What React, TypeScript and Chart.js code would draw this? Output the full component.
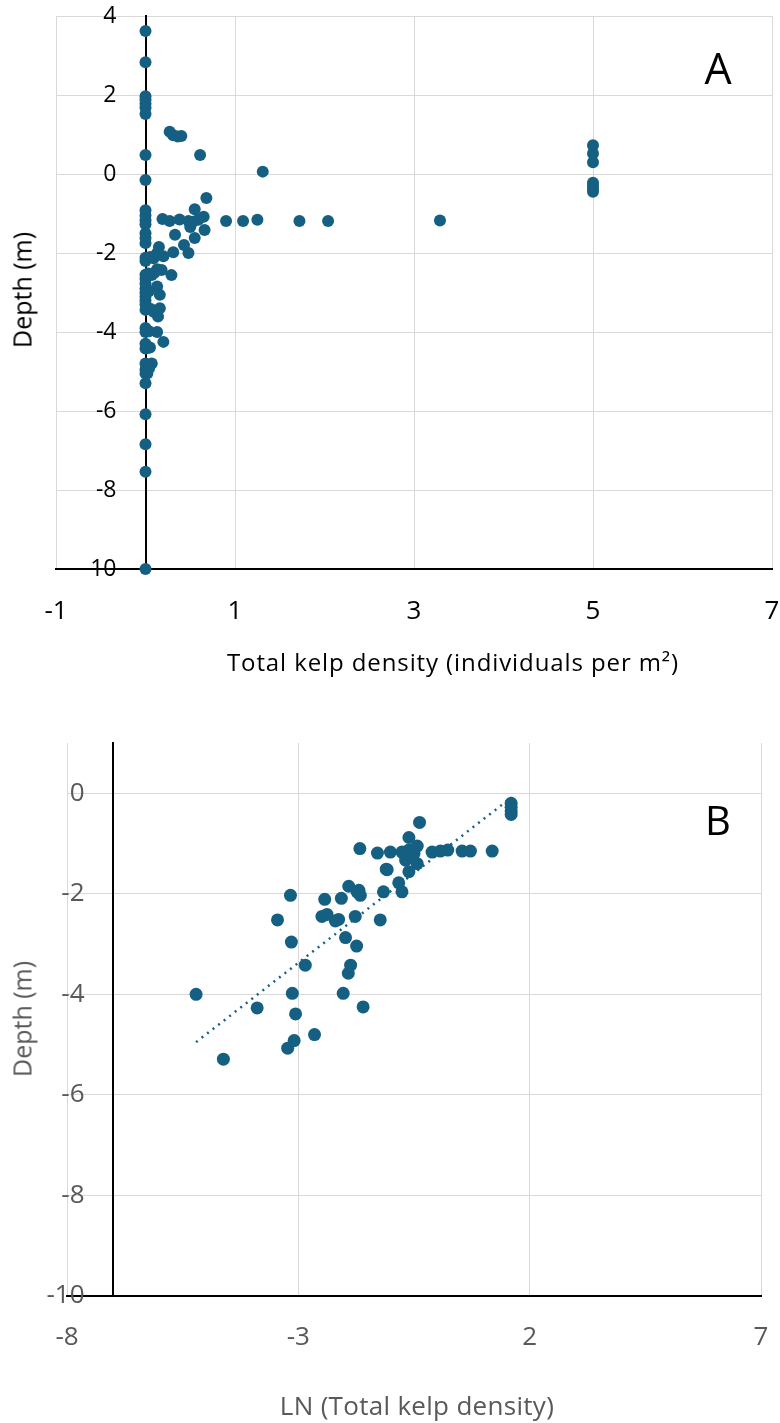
import React, { useEffect, useRef } from "react";
import { Chart, registerables } from "chart.js";
Chart.register(...registerables);

const POINT_COLOR = "#156082";
const GRID_COLOR = "#d9d9d9";
const FONT = "'Open Sans', 'Noto Sans', sans-serif";

// ---- Panel A: total kelp density vs depth ----
const densityA = [
  0, 0, 0, 0, 0, 0, 0, 0, 0, 0, 0, 0, 0, 0, 0, 0, 0, 0, 0, 0,
  0, 0, 0, 0, 0, 0, 0, 0, 0, 0, 0, 0, 0, 0, 0, 0, 0, 0, 0,
  0.27, 0.31, 0.36, 0.4, 0.61, 1.31,
  0.68, 0.55, 0.65, 0.19, 0.27, 0.38, 0.48, 0.53, 0.59, 0.9, 1.09, 1.25, 1.72, 2.04, 3.29,
  0.5, 0.66, 0.33, 0.55, 0.43, 0.48, 0.31, 0.15, 0.2, 0.09, 0.13,
  0.29, 0.13, 0.18, 0.07, 0.1, 0.13, 0.16, 0.16, 0.14, 0.09, 0.13, 0.2, 0.03, 0.07, 0.04, 0.02,
  0.05, 0.04, 0.04, 0.05, 0.06, 0.03,
  5, 5, 5, 5, 5, 5, 5,
];
const depthA = [
  3.62, 2.83, 1.97, 1.88, 1.78, 1.68, 1.52, 0.48, -0.15, -0.92, -1.05, -1.17, -1.27, -1.5, -1.62, -1.75, -2.12, -2.2, -2.55, -2.65,
  -2.78, -2.9, -3.0, -3.1, -3.2, -3.3, -3.44, -3.9, -4.0, -4.3, -4.42, -4.8, -4.95, -5.05, -5.3, -6.08, -6.84, -7.54, -10,
  1.07, 0.98, 0.95, 0.96, 0.48, 0.06,
  -0.61, -0.89, -1.08, -1.14, -1.19, -1.15, -1.19, -1.21, -1.16, -1.19, -1.19, -1.16, -1.19, -1.19, -1.18,
  -1.34, -1.42, -1.54, -1.62, -1.8, -2.0, -1.98, -1.85, -2.08, -2.13, -2.0,
  -2.56, -2.41, -2.43, -2.56, -2.5, -2.85, -3.06, -3.4, -3.61, -3.49, -4.0, -4.25, -4.4, -4.8, -4.92, -5.05,
  -2.1, -2.96, -3.98, -4.39, -3.42, -2.52,
  0.73, 0.52, 0.3, -0.22, -0.3, -0.38, -0.45,
];
const xTicksA = [-1, 1, 3, 5, 7];
const yTicksA = [-10, -8, -6, -4, -2, 0, 2, 4];

// ---- Panel B: LN(total kelp density) vs depth ----
const lnDensityB = [
  -5.21, -4.62, -3.89, -3.45, -3.17, -3.15, -3.13, -3.06, -3.09, -3.23,
  -2.65, -2.85, -2.03, -1.92, -1.87, -1.98, -1.74, -2.49, -2.38, -2.2,
  -2.13, -2.43, -2.07, -1.91, -1.73, -1.69, -1.77, -1.67, -1.6, -1.29,
  -1.01, -1.1, -1.16, -1.23, -0.76, -0.61, -0.43, -0.61, -0.38, -0.68,
  -0.43, -0.61, -1.08, -0.83, -0.76, -0.11, 0.07, 0.23, 0.54, 0.72,
  1.19, 1.6, 1.6, 1.6, 1.6, -1.66, -0.5, -0.55,
];
const depthB = [
  -4.0, -5.29, -4.27, -2.52, -2.03, -2.96, -3.98, -4.39, -4.92, -5.07,
  -4.8, -3.42, -3.98, -3.58, -3.42, -2.87, -3.04, -2.45, -2.41, -2.54,
  -2.51, -2.11, -2.09, -1.85, -1.96, -1.93, -2.45, -1.1, -4.25, -1.19,
  -1.17, -1.51, -1.96, -2.52, -1.17, -1.13, -1.05, -0.88, -0.58, -1.33,
  -1.4, -1.56, -1.52, -1.78, -1.96, -1.17, -1.15, -1.13, -1.15, -1.15,
  -1.15, -0.2, -0.28, -0.35, -0.42, -2.03, -1.2, -1.25,
];
const trendX = [-5.21, 1.61];
const trendY = [-4.95, -0.08];
const xTicksB = [-8, -3, 2, 7];
const yTicksB = [-10, -8, -6, -4, -2, 0];

const toPoints = (xs: number[], ys: number[]) => xs.map((x, i) => ({ x, y: ys[i] }));

const zeroPad = (s: any) => {
  s.paddingLeft = 0;
  s.paddingRight = 0;
  s.paddingTop = 0;
  s.paddingBottom = 0;
};

const setTicks = (vals: number[]) => (s: any) => {
  s.ticks = vals.map((v) => ({ value: v }));
};

function buildScales(opts: {
  xMin: number; xMax: number; xTicks: number[];
  yMin: number; yMax: number; yTicks: number[];
  axisX: number; labelX: number; xAxisHeight: number;
  color: string; xFont: number; yFont: number; xPad: number;
}) {
  return {
    x: {
      type: "linear",
      position: "bottom",
      min: opts.xMin,
      max: opts.xMax,
      afterBuildTicks: setTicks(opts.xTicks),
      afterFit: (s: any) => { s.height = opts.xAxisHeight; zeroPad(s); },
      grid: { color: GRID_COLOR, lineWidth: 1, drawTicks: false },
      border: { color: "#000", width: 2 },
      ticks: { color: opts.color, padding: opts.xPad, font: { family: FONT, size: opts.xFont } },
    },
    // data axis: crosses the x axis at axisX (black vertical axis line + horizontal grid)
    y: {
      type: "linear",
      position: { x: opts.axisX },
      min: opts.yMin,
      max: opts.yMax,
      afterBuildTicks: setTicks(opts.yTicks),
      afterFit: (s: any) => { zeroPad(s); },
      grid: { color: GRID_COLOR, lineWidth: 1, drawTicks: false },
      border: { color: "#000", width: 2 },
      ticks: { display: false },
    },
    // label axis: tick labels set just left of the crossing axis
    yLabels: {
      type: "linear",
      axis: "y",
      position: { x: opts.labelX },
      min: opts.yMin,
      max: opts.yMax,
      afterBuildTicks: setTicks(opts.yTicks),
      afterFit: (s: any) => { zeroPad(s); },
      grid: { display: false, drawTicks: false },
      border: { display: false },
      ticks: { color: opts.color, padding: 0, font: { family: FONT, size: opts.yFont } },
    },
  };
}

function useChart(ref: React.RefObject<HTMLCanvasElement | null>, make: (c: HTMLCanvasElement) => Chart) {
  useEffect(() => {
    if (!ref.current) return;
    const ch = make(ref.current);
    return () => ch.destroy();
  }, []);
}

export default function App() {
  const refA = useRef<HTMLCanvasElement | null>(null);
  const refB = useRef<HTMLCanvasElement | null>(null);

  useChart(refA, (c) =>
    new Chart(c, {
      type: "scatter",
      data: {
        datasets: [
          {
            data: toPoints(densityA, depthA),
            backgroundColor: POINT_COLOR,
            borderColor: POINT_COLOR,
            pointRadius: 6,
            borderWidth: 0,
            clip: false,
          },
        ],
      },
      options: {
        responsive: false,
        animation: false,
        devicePixelRatio: 1,
        layout: { padding: { left: 56, right: 8, top: 16, bottom: 0 } },
        plugins: { legend: { display: false }, tooltip: { enabled: false } },
        scales: buildScales({
          xMin: -1, xMax: 7, xTicks: xTicksA,
          yMin: -10, yMax: 4, yTicks: yTicksA,
          axisX: 0, labelX: -0.324, xAxisHeight: 131,
          color: "#000", xFont: 26, yFont: 23, xPad: 27,
        }),
      },
    } as any)
  );

  useChart(refB, (c) =>
    new Chart(c, {
      type: "scatter",
      data: {
        datasets: [
          {
            data: toPoints(lnDensityB, depthB),
            backgroundColor: POINT_COLOR,
            borderColor: POINT_COLOR,
            pointRadius: 6.5,
            borderWidth: 0,
            clip: false,
            order: 1,
          },
          {
            type: "line",
            data: toPoints(trendX, trendY),
            borderColor: POINT_COLOR,
            borderWidth: 2.5,
            borderDash: [2, 5],
            pointRadius: 0,
            fill: false,
            order: 0,
          },
        ],
      },
      options: {
        responsive: false,
        animation: false,
        devicePixelRatio: 1,
        layout: { padding: { left: 67, right: 19, top: 43, bottom: 0 } },
        plugins: { legend: { display: false }, tooltip: { enabled: false } },
        scales: buildScales({
          xMin: -8, xMax: 7, xTicks: xTicksB,
          yMin: -10, yMax: 1, yTicks: yTicksB,
          axisX: -7, labelX: -7.62, xAxisHeight: 127,
          color: "#595959", xFont: 26, yFont: 26, xPad: 26,
        }),
      },
    } as any)
  );

  const label = (
    text: React.ReactNode,
    cx: number,
    cy: number,
    size: number,
    color: string,
    rotate = false,
    spacing = 0
  ) => (
    <div
      style={{
        position: "absolute",
        left: cx,
        top: cy,
        transform: `translate(-50%, -50%)${rotate ? " rotate(-90deg)" : ""}`,
        fontFamily: FONT,
        fontSize: size,
        lineHeight: 1,
        letterSpacing: spacing,
        color,
        whiteSpace: "nowrap",
      }}
    >
      {text}
    </div>
  );

  return (
    <div style={{ position: "absolute", left: 0, top: 0, width: 780, height: 1423, background: "#fff", overflow: "hidden" }}>
      <canvas ref={refA} width={780} height={700} style={{ position: "absolute", left: 0, top: 0, width: 780, height: 700 }} />
      <canvas ref={refB} width={780} height={723} style={{ position: "absolute", left: 0, top: 700, width: 780, height: 723 }} />
      {label("Depth (m)", 22, 290, 25, "#000", true)}
      {label("Total kelp density (individuals per m²)", 453, 662, 24, "#000", false, 0.9)}
      {label("A", 718, 67, 43, "#000")}
      {label("Depth (m)", 22, 1019, 25, "#595959", true)}
      {label("LN (Total kelp density)", 417, 1405, 26, "#595959", false, 0.3)}
      {label("B", 718, 820, 40, "#000")}
    </div>
  );
}
